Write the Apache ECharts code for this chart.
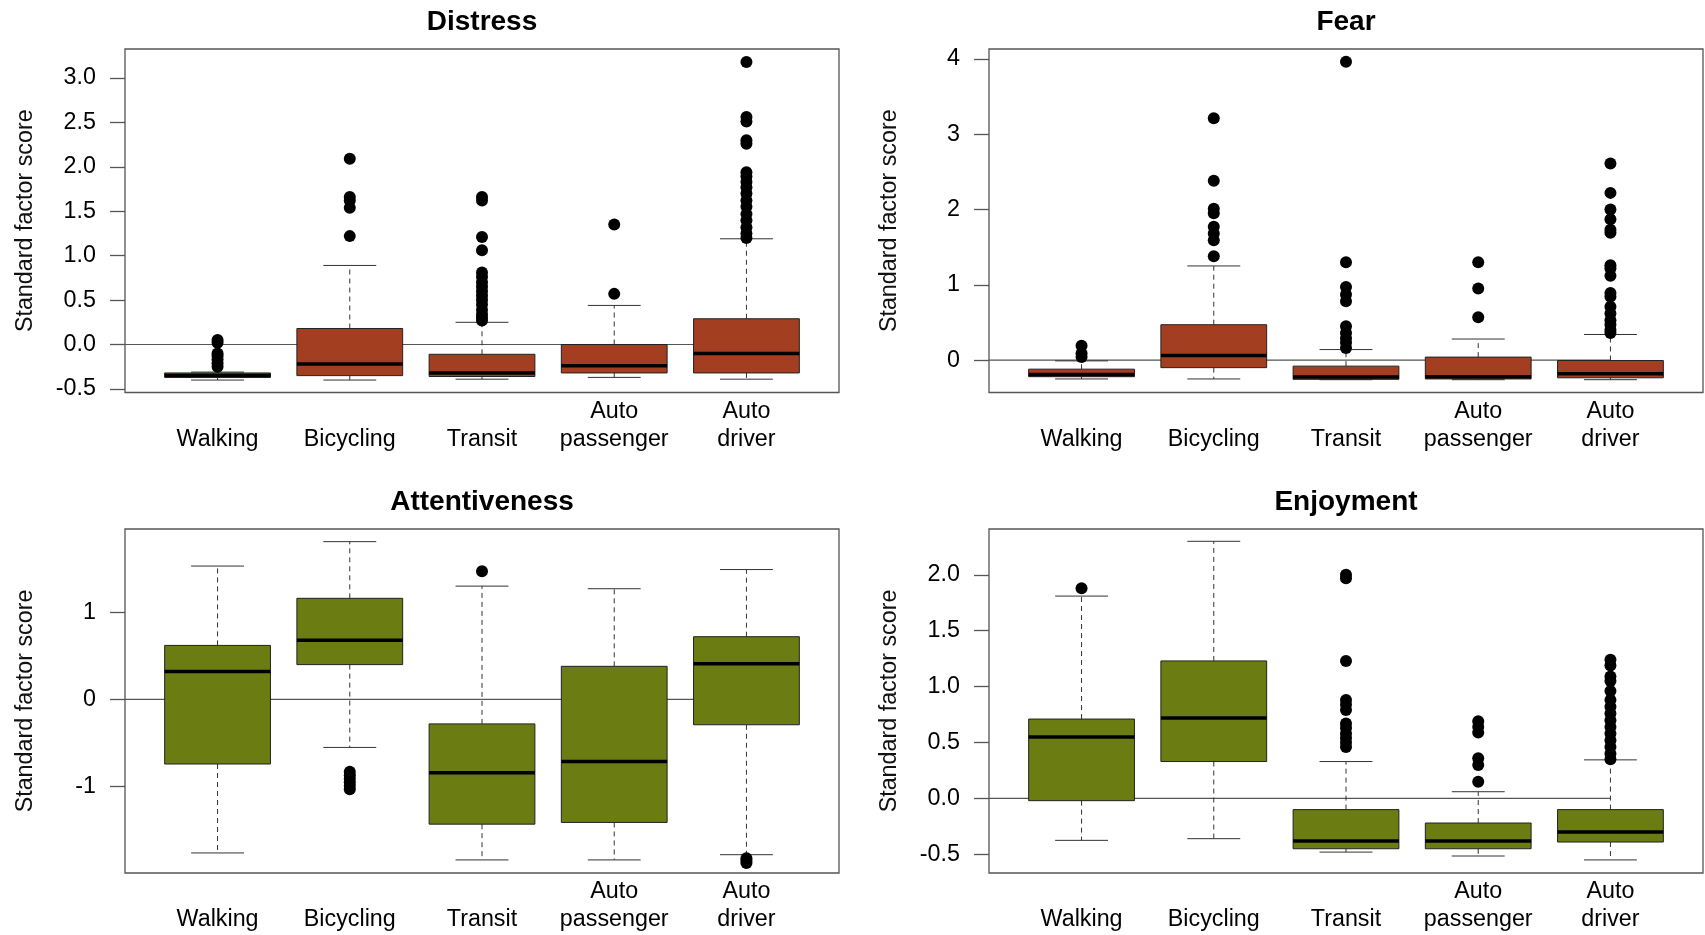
<!DOCTYPE html>
<html>
<head>
<meta charset="utf-8">
<title>Factor scores by mode</title>
<script src="https://cdn.jsdelivr.net/npm/echarts@6/dist/echarts.min.js"></script>
<style>
html,body{margin:0;padding:0;background:#fff;}
#chart{width:1705px;height:935px;}
</style>
</head>
<body>
<div id="chart"></div>
<script>
// ---------- data ----------
const categories = ['Walking', 'Bicycling', 'Transit', 'Auto\npassenger', 'Auto\ndriver'];

// each box: [lower whisker, Q1, median, Q3, upper whisker]
const distressBoxes = [
  [-0.40, -0.37, -0.35, -0.32, -0.31],
  [-0.40, -0.35, -0.22, 0.18, 0.89],
  [-0.39, -0.36, -0.32, -0.11, 0.25],
  [-0.37, -0.32, -0.24, 0.00, 0.44],
  [-0.39, -0.32, -0.10, 0.29, 1.19]
];
const distressOutliers = [
  [0.05, 0.02, -0.10, -0.13, -0.17, -0.21, -0.25],
  [2.09, 1.66, 1.62, 1.54, 1.22],
  [1.66, 1.62, 1.21, 1.06, 0.81, 0.76, 0.70, 0.65, 0.60, 0.55, 0.50, 0.45, 0.39, 0.34, 0.30, 0.27],
  [1.35, 0.57],
  [3.18, 2.56, 2.51, 2.30, 2.26, 1.94, 1.89, 1.83, 1.77, 1.70, 1.62, 1.55, 1.47, 1.40, 1.32, 1.25, 1.20]
];
const distressTicks = [-0.5, 0.0, 0.5, 1.0, 1.5, 2.0, 2.5, 3.0];

const fearBoxes = [
  [-0.25, -0.22, -0.19, -0.12, -0.01],
  [-0.25, -0.10, 0.06, 0.47, 1.25],
  [-0.26, -0.255, -0.225, -0.08, 0.14],
  [-0.26, -0.25, -0.22, 0.04, 0.28],
  [-0.26, -0.235, -0.18, -0.005, 0.34]
];
const fearOutliers = [
  [0.19, 0.09, 0.04],
  [3.21, 2.38, 2.01, 1.95, 1.77, 1.68, 1.59, 1.38],
  [3.96, 1.30, 0.97, 0.87, 0.78, 0.45, 0.36, 0.29, 0.23, 0.16],
  [1.30, 0.95, 0.57],
  [2.61, 2.22, 2.00, 1.87, 1.73, 1.69, 1.26, 1.22, 1.12, 0.89, 0.84, 0.71, 0.62, 0.53, 0.47, 0.40, 0.36]
];
const fearTicks = [0, 1, 2, 3, 4];

const attentiveBoxes = [
  [-1.76, -0.74, 0.32, 0.62, 1.53],
  [-0.55, 0.40, 0.68, 1.16, 1.81],
  [-1.84, -1.43, -0.84, -0.28, 1.30],
  [-1.84, -1.41, -0.71, 0.38, 1.27],
  [-1.78, -0.29, 0.41, 0.72, 1.49]
];
const attentiveOutliers = [
  [],
  [-0.83, -0.87, -0.91, -0.95, -0.99, -1.03],
  [1.47],
  [],
  [-1.82, -1.85, -1.875]
];
const attentiveTicks = [-1, 0, 1];

const enjoyBoxes = [
  [-0.375, -0.02, 0.55, 0.71, 1.81],
  [-0.36, 0.33, 0.72, 1.23, 2.30],
  [-0.48, -0.45, -0.38, -0.10, 0.33],
  [-0.515, -0.45, -0.38, -0.22, 0.06],
  [-0.55, -0.39, -0.30, -0.10, 0.345]
];
const enjoyOutliers = [
  [1.88],
  [],
  [2.00, 1.97, 1.23, 0.88, 0.84, 0.79, 0.67, 0.63, 0.58, 0.54, 0.50, 0.46],
  [0.69, 0.64, 0.59, 0.36, 0.30, 0.15],
  [1.24, 1.19, 1.09, 1.05, 0.96, 0.88, 0.82, 0.76, 0.70, 0.64, 0.58, 0.52, 0.46, 0.40, 0.35]
];
const enjoyTicks = [-0.5, 0.0, 0.5, 1.0, 1.5, 2.0];

const panelTitles = ['Distress', 'Fear', 'Attentiveness', 'Enjoyment'];
const yTitle = 'Standard factor score';

// ---------- styling / layout ----------
const FONT = '"Liberation Sans", Arial, Helvetica, sans-serif';
const RED = '#A33F20';
const GREEN = '#6B7D12';

const panels = [
  {title: panelTitles[0], boxes: distressBoxes, outliers: distressOutliers, ticks: distressTicks, dec: 1, ymin: -0.54, ymax: 3.326, fill: RED, left: 125, top: 49, height: 343.5},
  {title: panelTitles[1], boxes: fearBoxes, outliers: fearOutliers, ticks: fearTicks, dec: 0, ymin: -0.43, ymax: 4.13, fill: RED, left: 989, top: 49, height: 343.5},
  {title: panelTitles[2], boxes: attentiveBoxes, outliers: attentiveOutliers, ticks: attentiveTicks, dec: 0, ymin: -1.99, ymax: 1.955, fill: GREEN, left: 125, top: 529, height: 344},
  {title: panelTitles[3], boxes: enjoyBoxes, outliers: enjoyOutliers, ticks: enjoyTicks, dec: 1, ymin: -0.667, ymax: 2.41, fill: GREEN, left: 989, top: 529, height: 344}
];
const PW = 714;

function makeRender(fill) {
  return function (params, api) {
    const x = api.value(0);
    const mn = api.value(1), q1 = api.value(2), md = api.value(3), q3 = api.value(4), mx = api.value(5);
    const hw = api.size([0.4, 0])[0];
    const cw = api.size([0.2, 0])[0];
    const pMin = api.coord([x, mn]), pQ1 = api.coord([x, q1]), pMd = api.coord([x, md]);
    const pQ3 = api.coord([x, q3]), pMx = api.coord([x, mx]);
    const cx = pMd[0];
    const dash = {stroke: '#333', lineWidth: 1, lineDash: [5, 4]};
    const solid = {stroke: '#333', lineWidth: 1};
    return {
      type: 'group',
      children: [
        {type: 'line', shape: {x1: cx, y1: pQ3[1], x2: cx, y2: pMx[1]}, style: dash},
        {type: 'line', shape: {x1: cx, y1: pQ1[1], x2: cx, y2: pMin[1]}, style: dash},
        {type: 'line', shape: {x1: cx - cw, y1: pMx[1], x2: cx + cw, y2: pMx[1]}, style: solid},
        {type: 'line', shape: {x1: cx - cw, y1: pMin[1], x2: cx + cw, y2: pMin[1]}, style: solid},
        {type: 'rect', shape: {x: cx - hw, y: pQ3[1], width: 2 * hw, height: pQ1[1] - pQ3[1]},
          style: {fill: fill, stroke: '#222', lineWidth: 1}},
        {type: 'line', shape: {x1: cx - hw, y1: pMd[1], x2: cx + hw, y2: pMd[1]},
          style: {stroke: '#000', lineWidth: 3.5}}
      ]
    };
  };
}

const option = {
  animation: false,
  backgroundColor: '#fff',
  textStyle: {fontFamily: FONT},
  title: [],
  grid: [],
  xAxis: [],
  yAxis: [],
  series: []
};

panels.forEach((p, i) => {
  option.title.push({
    text: p.title,
    left: p.left + PW / 2,
    top: p.top - 41,
    textAlign: 'center',
    padding: 0,
    textStyle: {fontFamily: FONT, fontSize: 28, fontWeight: 'bold', color: '#000'}
  });
  option.grid.push({
    left: p.left, top: p.top, width: PW, height: p.height,
    show: true, borderColor: '#555', borderWidth: 1.3, backgroundColor: 'transparent',
    containLabel: false
  });
  option.xAxis.push({
    type: 'value', gridIndex: i, min: 0.3, max: 5.7,
    axisLine: {show: false}, axisTick: {show: false}, splitLine: {show: false},
    axisLabel: {
      customValues: [1, 2, 3, 4, 5],
      formatter: v => categories[Math.round(v) - 1],
      fontFamily: FONT, fontSize: 23.3, color: '#000',
      lineHeight: 28, verticalAlign: 'bottom', margin: 61
    }
  });
  option.yAxis.push({
    type: 'value', gridIndex: i, min: p.ymin, max: p.ymax,
    axisLine: {show: false}, splitLine: {show: false},
    axisTick: {show: true, length: 15, customValues: p.ticks, lineStyle: {color: '#555', width: 1.3}},
    axisLabel: {
      customValues: p.ticks,
      formatter: v => Number(v).toFixed(p.dec),
      fontFamily: FONT, fontSize: 23.3, color: '#000', margin: 29
    },
    name: yTitle, nameLocation: 'middle', nameGap: 88,
    nameTextStyle: {fontFamily: FONT, fontSize: 23.3, color: '#111'}
  });
  // zero reference line
  option.series.push({
    type: 'line', xAxisIndex: i, yAxisIndex: i, z: 1, silent: true,
    symbol: 'none', data: [[0.3, 0], [5, 0]],
    lineStyle: {color: '#555', width: 1.2}
  });
  // boxes
  option.series.push({
    type: 'custom', xAxisIndex: i, yAxisIndex: i, z: 2,
    renderItem: makeRender(p.fill),
    encode: {x: 0, y: [1, 2, 3, 4, 5]},
    data: p.boxes.map((b, k) => [k + 1].concat(b))
  });
  // outliers
  const pts = [];
  p.outliers.forEach((arr, k) => arr.forEach(v => pts.push([k + 1, v])));
  option.series.push({
    type: 'scatter', xAxisIndex: i, yAxisIndex: i, z: 3,
    symbol: 'circle', symbolSize: 12, itemStyle: {color: '#000', opacity: 1},
    data: pts
  });
});

const chart = echarts.init(document.getElementById('chart'), null, {renderer: 'canvas'});
chart.setOption(option);
</script>
</body>
</html>
